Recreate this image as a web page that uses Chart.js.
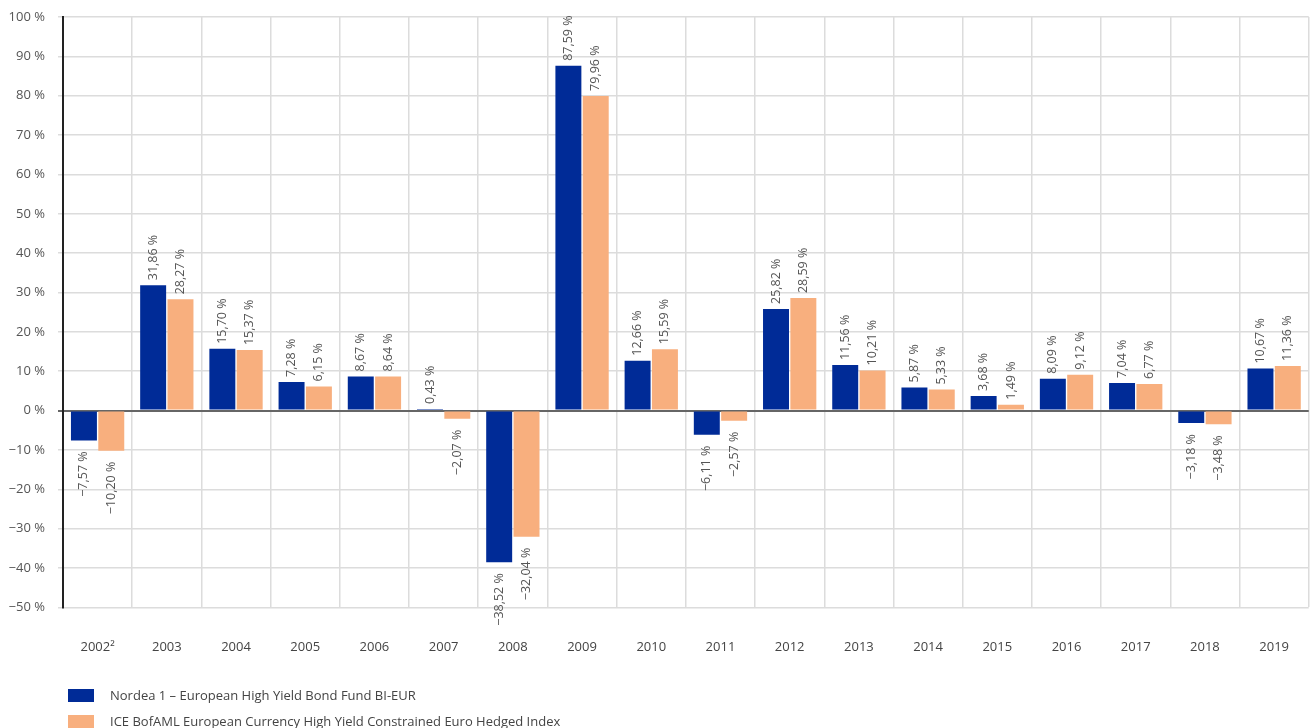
<!DOCTYPE html>
<html>
<head>
<meta charset="utf-8">
<script src="https://cdn.jsdelivr.net/npm/chart.js@4/dist/chart.umd.min.js"></script>
<style>
  body { margin: 0; background: #fff; overflow: hidden; font-family: "Open Sans", sans-serif; }
  #wrap { position: relative; width: 1312px; height: 728px; overflow: hidden; }
  #box { position: absolute; left: 0; top: 0; width: 1321px; height: 687px; }
  #legend { position: absolute; left: 68px; top: 682px; font-size: 13px; color: #444; }
  .item { display: flex; align-items: center; height: 26px; }
  .sw { width: 26px; height: 13px; margin-right: 16px; }
</style>
</head>
<body>
<div id="wrap">
  <div id="box"><canvas id="barChart"></canvas></div>
  <div id="legend"></div>
</div>
<script>
    var years = ['2002\u00b2', '2003', '2004', '2005', '2006', '2007', '2008', '2009', '2010', '2011',
      '2012', '2013', '2014', '2015', '2016', '2017', '2018', '2019'];
    var fundValues = [-7.57, 31.86, 15.70, 7.28, 8.67, 0.43, -38.52, 87.59, 12.66, -6.11,
      25.82, 11.56, 5.87, 3.68, 8.09, 7.04, -3.18, 10.67];
    var indexValues = [-10.20, 28.27, 15.37, 6.15, 8.64, -2.07, -32.04, 79.96, 15.59, -2.57,
      28.59, 10.21, 5.33, 1.49, 9.12, 6.77, -3.48, 11.36];
    var seriesNames = ['Nordea 1 \u2013 European High Yield Bond Fund BI-EUR',
      'ICE BofAML European Currency High Yield Constrained Euro Hedged Index'];
    var seriesColors = ['#002B97', '#F8AF7E'];

    function pct(v) {
      var s = Math.abs(v).toFixed(2).replace('.', ',');
      return (v < 0 ? '\u2212' : '') + s + ' %';
    }

    // rotated value labels above / below each bar
    var valueLabels = {
      id: 'valueLabels',
      afterDatasetsDraw: function (chart) {
        var ctx = chart.ctx;
        ctx.save();
        ctx.font = '12.5px "Open Sans"';
        ctx.fillStyle = '#555';
        ctx.textBaseline = 'middle';
        chart.data.datasets.forEach(function (ds, i) {
          chart.getDatasetMeta(i).data.forEach(function (bar, j) {
            var v = ds.data[j];
            ctx.save();
            ctx.translate(bar.x, v >= 0 ? bar.y - 5 : bar.y + 11);
            ctx.rotate(-Math.PI / 2);
            ctx.textAlign = v >= 0 ? 'left' : 'right';
            ctx.fillText(pct(v), 0, 0);
            ctx.restore();
          });
        });
        ctx.restore();
      }
    };

    var barData = {
      labels: years,
      datasets: [{
        label: seriesNames[0],
        data: fundValues,
        backgroundColor: seriesColors[0],
        categoryPercentage: 0.79,
        barPercentage: 0.95
      }, {
        label: seriesNames[1],
        data: indexValues,
        backgroundColor: seriesColors[1],
        categoryPercentage: 0.79,
        barPercentage: 0.95
      }]
    };

    var barOptions = {
      responsive: true,
      maintainAspectRatio: false,
      animation: false,
      layout: { padding: { top: 17, right: 0, bottom: 0, left: 0 } },
      plugins: {
        legend: { display: false },
        tooltip: { enabled: false }
      },
      scales: {
        x: {
          offset: true,
          grid: { offset: true, color: '#dcdcdc', lineWidth: 1.5, drawTicks: false },
          border: { display: false },
          ticks: { color: '#444', padding: 32, font: { family: 'Open Sans', size: 13 } }
        },
        y: {
          min: -50,
          max: 100,
          afterFit: function (axis) {
            axis.width = 63;
            axis.paddingTop = 0;
            axis.paddingBottom = 0;
          },
          ticks: {
            stepSize: 10,
            color: '#555',
            padding: 13,
            font: { family: 'Open Sans', size: 13 },
            callback: function (v) { return (v < 0 ? '\u2212' : '') + Math.abs(v) + ' %'; }
          },
          grid: {
            tickLength: 5,
            color: function (c) { return c.tick && c.tick.value === 0 ? '#666' : '#dcdcdc'; },
            lineWidth: function (c) { return c.tick && c.tick.value === 0 ? 2 : 1.5; }
          },
          border: { color: '#222', width: 2 }
        }
      }
    };

    var barChart = new Chart(document.getElementById('barChart'), {
      type: 'bar',
      data: barData,
      options: barOptions,
      plugins: [valueLabels]
    });

    var legend = document.getElementById('legend');
    seriesNames.forEach(function (name, i) {
      legend.innerHTML += '<div class="item"><span class="sw" style="background:' + seriesColors[i] +
        '"></span>' + name + '</div>';
    });
</script>
</body>
</html>
